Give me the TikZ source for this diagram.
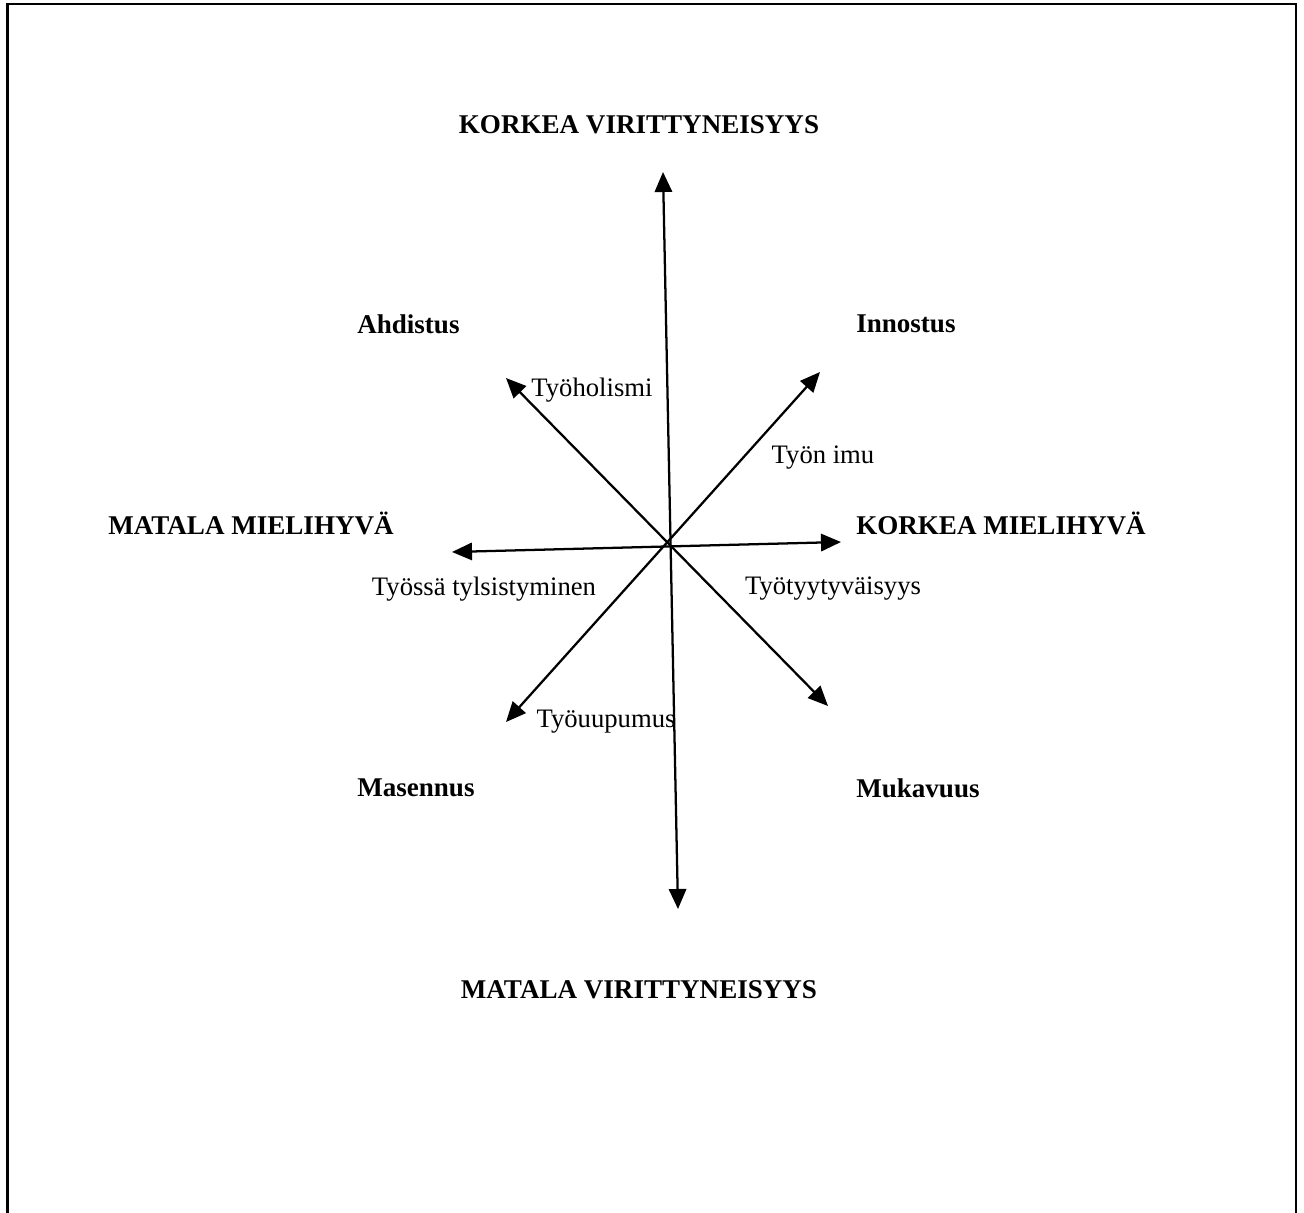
\documentclass[tikz,border=0pt]{standalone}
\usepackage{fontspec}
\setmainfont{Liberation Serif}
\usetikzlibrary{arrows.meta}
\begin{document}
\begin{tikzpicture}[x=0.75pt,y=-0.75pt,
  frame/.style={line width=2pt},
  axis/.style={line width=1.7pt,{Triangle[length=15pt,width=13pt]}-{Triangle[length=15pt,width=13pt]}},
  big/.style={font=\fontsize{20.3}{24}\selectfont\bfseries,inner sep=0pt},
  small/.style={font=\fontsize{20}{24}\selectfont,inner sep=0pt}]
\useasboundingbox (0,0) rectangle (1304,1213);
% frame (open at the bottom)
\draw[frame] (7.5,1213) -- (7.5,4) -- (1296,4) -- (1296,1213);
% arrow ends
\coordinate (vt) at (663,172);
\coordinate (vb) at (678,909);
\coordinate (hl) at (452,552);
\coordinate (hr) at (841,542);
\coordinate (nw) at (506,378);
\coordinate (se) at (828,706);
\coordinate (ne) at (820,372);
\coordinate (sw) at (506,722);
\draw[axis] (vt) -- (vb);
\draw[axis] (hl) -- (hr);
\draw[axis] (nw) -- (se);
\draw[axis] (ne) -- (sw);
% labels
\node[big] (kv) at (639,125) {KORKEA VIRITTYNEISYYS};
\node[big,anchor=west] (ahd) at (357,324) {Ahdistus};
\node[big,anchor=west] (inn) at (856,324) {Innostus};
\node[small] (tyh) at (592,390) {Työholismi};
\node[small] (imu) at (823,458) {Työn imu};
\node[big] (mm) at (251,523) {MATALA MIELIHYVÄ};
\node[big,anchor=west] (km) at (856,523) {KORKEA MIELIHYVÄ};
\node[small] (tyl) at (484,589) {Työssä tylsistyminen};
\node[small] (tyt) at (833,589) {Työtyytyväisyys};
\node[small] (tyu) at (606,722) {Työuupumus};
\node[big,anchor=west] (mas) at (357,788) {Masennus};
\node[big,anchor=west] (muk) at (856,788) {Mukavuus};
\node[big] (mv) at (639,990) {MATALA VIRITTYNEISYYS};
\end{tikzpicture}
\end{document}
